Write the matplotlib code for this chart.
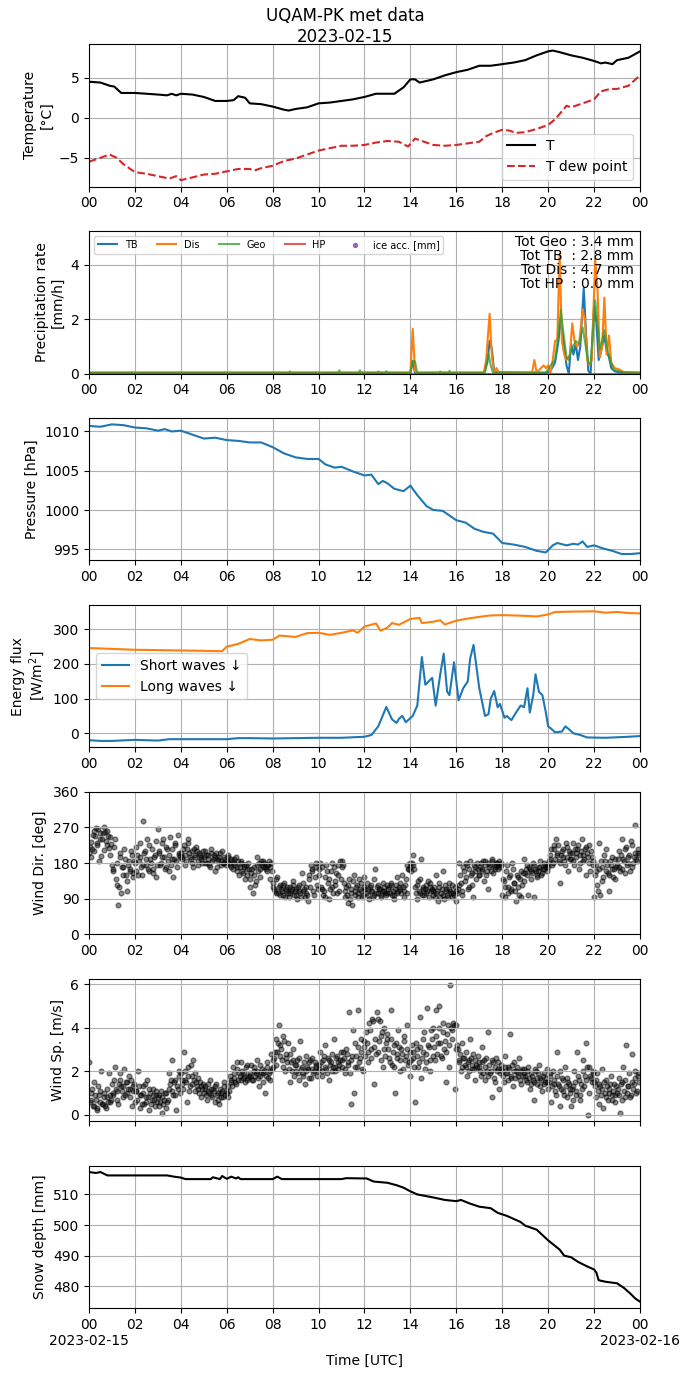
import numpy as np
import matplotlib
matplotlib.use("Agg")
import matplotlib.pyplot as plt

# ---- temperature
t_hours = [0, 0.5, 0.9, 1.1, 1.4, 2, 2.5, 3, 3.4, 3.6, 3.8, 4, 4.5, 5, 5.5, 6, 6.3, 6.5, 6.8, 7,
           7.5, 8, 8.5, 8.7, 9, 9.5, 10, 10.5, 11, 11.5, 12, 12.5, 13, 13.3, 13.7, 14, 14.2, 14.4,
           14.7, 15, 15.5, 16, 16.5, 17, 17.5, 18, 18.5, 19, 19.5, 20, 20.2, 20.5, 21, 21.5, 22,
           22.3, 22.5, 22.8, 23, 23.5, 24]
t_vals = [4.5, 4.4, 4.0, 3.9, 3.1, 3.1, 3.0, 2.9, 2.8, 3.0, 2.8, 3.0, 2.9, 2.6, 2.1, 2.1, 2.2, 2.7,
          2.5, 1.8, 1.7, 1.4, 1.0, 0.9, 1.1, 1.3, 1.8, 1.9, 2.1, 2.3, 2.6, 3.0, 3.0, 3.0, 3.8, 4.8,
          4.8, 4.4, 4.6, 4.8, 5.3, 5.7, 6.0, 6.5, 6.5, 6.7, 6.9, 7.2, 7.8, 8.3, 8.4, 8.2, 7.8, 7.5,
          7.1, 6.8, 6.9, 6.7, 7.2, 7.5, 8.3]
td_hours = [0, 0.5, 0.9, 1.2, 1.5, 2, 2.5, 3, 3.5, 3.8, 4, 4.3, 5, 5.5, 6, 6.5, 7, 7.2, 7.5, 8,
            8.5, 9, 9.5, 10, 10.5, 11, 11.5, 12, 12.5, 13, 13.5, 13.9, 14.2, 14.5, 15, 15.5, 16,
            16.5, 17, 17.3, 17.6, 18, 18.3, 18.6, 19, 19.5, 20, 20.3, 20.6, 20.8, 21, 21.5, 22,
            22.3, 22.7, 23, 23.5, 24]
td_vals = [-5.5, -5.0, -4.6, -5.0, -5.8, -6.8, -7.0, -7.3, -7.6, -7.3, -7.8, -7.6, -7.1, -7.0,
           -6.7, -6.4, -6.4, -6.6, -6.3, -6.0, -5.4, -5.1, -4.6, -4.1, -3.8, -3.5, -3.5, -3.4,
           -3.1, -2.9, -3.0, -3.6, -2.6, -2.9, -3.4, -3.5, -3.4, -3.2, -3.0, -2.3, -1.9, -1.5,
           -1.6, -1.9, -1.8, -1.4, -0.9, -0.2, 0.8, 1.5, 1.3, 1.8, 2.3, 3.3, 3.6, 3.6, 4.0, 5.3]

# ---- precipitation rate
tb_hours = [0, 14.0, 14.1, 14.2, 17.2, 17.35, 17.45, 17.55, 17.65, 19.9, 20.1, 20.3, 20.45, 20.55,
            20.65, 20.8, 20.9, 21.0, 21.1, 21.2, 21.3, 21.4, 21.55, 21.65, 21.75, 21.85, 22.0,
            22.1, 22.2, 22.3, 22.45, 22.55, 22.65, 22.75, 22.9, 23.2, 24]
tb_vals = [0.03, 0.03, 0.45, 0.03, 0.03, 0.4, 1.2, 0.9, 0.05, 0.03, 0.1, 0.4, 1.2, 2.0, 1.3, 0.3,
           0.0, 1.1, 0.7, 1.1, 0.5, 1.0, 3.15, 1.5, 0.1, 0.0, 2.5, 1.9, 0.5, 0.8, 1.4, 0.8, 0.6,
           0.2, 0.08, 0.03, 0.03]
dis_hours = [0, 14.0, 14.1, 14.2, 14.3, 17.2, 17.3, 17.45, 17.55, 17.65, 17.75, 17.85, 19.3, 19.4,
             19.5, 19.8, 19.9, 20.0, 20.1, 20.2, 20.3, 20.4, 20.5, 20.6, 20.7, 20.8, 20.95, 21.05,
             21.15, 21.25, 21.35, 21.5, 21.6, 21.7, 21.8, 21.9, 22.05, 22.15, 22.25, 22.35, 22.45,
             22.55, 22.65, 22.75, 22.9, 23.1, 23.3, 24]
dis_vals = [0.03, 0.03, 1.65, 0.1, 0.03, 0.03, 0.5, 2.2, 0.6, 0.05, 0.2, 0.03, 0.03, 0.5, 0.03,
            0.3, 0.2, 0.3, 0.03, 0.5, 1.2, 1.25, 4.4, 1.2, 0.7, 0.5, 0.7, 1.85, 1.2, 1.0, 1.1,
            2.35, 2.0, 0.5, 0.3, 0.5, 4.2, 3.1, 0.6, 1.0, 2.8, 0.7, 1.4, 0.4, 0.2, 0.15, 0.05, 0.03]
geo_hours = [0, 8.7, 8.75, 8.8, 10.85, 10.9, 10.95, 11.75, 11.8, 11.85, 12.55, 12.6, 12.65, 12.9,
             12.95, 13.0, 14.0, 14.1, 14.2, 14.3, 15.25, 15.3, 15.35, 15.65, 15.7, 15.75, 17.25,
             17.4, 17.5, 17.6, 19.9, 20.1, 20.3, 20.45, 20.55, 20.65, 20.8, 20.9, 21.0, 21.1, 21.2,
             21.35, 21.5, 21.6, 21.75, 21.85, 22.05, 22.15, 22.25, 22.35, 22.45, 22.55, 22.7,
             22.85, 23.0, 23.3, 24]
geo_vals = [0.03, 0.03, 0.08, 0.03, 0.03, 0.12, 0.03, 0.03, 0.12, 0.03, 0.03, 0.08, 0.03, 0.03,
            0.09, 0.03, 0.03, 0.47, 0.45, 0.03, 0.03, 0.08, 0.03, 0.03, 0.1, 0.03, 0.03, 0.74, 0.3,
            0.03, 0.03, 0.3, 0.5, 1.5, 2.35, 1.6, 0.6, 0.5, 0.9, 1.0, 1.2, 1.1, 1.7, 1.2, 0.4,
            0.35, 2.7, 1.8, 0.9, 1.2, 1.6, 1.0, 0.5, 0.15, 0.1, 0.05, 0.03]
hp_hours = [0, 24]
hp_vals = [0.0, 0.0]
ice_hours = []
ice_vals = []
totals = {"Geo": 3.4, "TB": 2.8, "Dis": 4.7, "HP": 0.0}

# ---- pressure
p_hours = [0, 0.5, 1, 1.5, 2, 2.5, 3, 3.3, 3.6, 4, 4.5, 5, 5.5, 6, 6.5, 7, 7.5, 8, 8.5, 9, 9.5,
           10, 10.3, 10.7, 11, 11.5, 12, 12.3, 12.6, 12.8, 13, 13.3, 13.7, 14, 14.3, 14.7, 15,
           15.4, 15.8, 16, 16.4, 16.8, 17.2, 17.6, 18, 18.5, 19, 19.5, 19.9, 20.2, 20.4, 20.8,
           21.1, 21.3, 21.5, 21.7, 22, 22.4, 22.8, 23.2, 23.6, 24]
p_vals = [1010.7, 1010.6, 1010.9, 1010.8, 1010.5, 1010.4, 1010.1, 1010.3, 1010.0, 1010.1, 1009.6,
          1009.1, 1009.2, 1008.9, 1008.8, 1008.6, 1008.6, 1008.0, 1007.2, 1006.7, 1006.5, 1006.5,
          1005.8, 1005.4, 1005.5, 1004.9, 1004.4, 1004.5, 1003.3, 1003.7, 1003.4, 1002.7, 1002.4,
          1003.1, 1001.9, 1000.5, 1000.0, 999.9, 999.1, 998.7, 998.4, 997.6, 997.2, 997.0, 995.8,
          995.6, 995.3, 994.8, 994.6, 995.5, 995.8, 995.5, 995.7, 995.6, 996.0, 995.3, 995.5,
          995.1, 994.8, 994.4, 994.4, 994.5]

# ---- radiation
sw_hours = [0, 0.5, 1, 2, 3, 3.5, 4, 5, 6, 6.5, 7, 8, 9, 10, 11, 12, 12.3, 12.6, 12.85, 12.95,
            13.2, 13.4, 13.5, 13.65, 13.8, 14.1, 14.3, 14.5, 14.65, 14.8, 14.95, 15.1, 15.3,
            15.45, 15.6, 15.7, 15.9, 16.1, 16.3, 16.5, 16.6, 16.75, 17.0, 17.25, 17.4, 17.5,
            17.65, 17.8, 17.9, 18.1, 18.2, 18.4, 18.6, 18.8, 18.95, 19.1, 19.2, 19.35, 19.45,
            19.6, 19.75, 19.9, 20.0, 20.1, 20.3, 20.6, 20.75, 20.9, 21.1, 21.4, 21.7, 22.5,
            23.5, 24]
sw_vals = [-20, -22, -22, -19, -21, -17, -17, -17, -17, -14, -14, -15, -14, -13, -13, -10, -5,
           20, 60, 76, 40, 30, 42, 50, 32, 50, 80, 220, 140, 150, 160, 80, 170, 230, 120, 110,
           205, 95, 130, 150, 215, 255, 130, 50, 55, 100, 122, 75, 85, 45, 50, 38, 60, 80, 75,
           130, 60, 110, 170, 120, 110, 60, 20, 15, 3, 5, 20, 12, 0, -5, -12, -13, -10, -8]
lw_hours = [0, 2, 4, 5.8, 6.0, 6.5, 7, 7.5, 8, 8.3, 9, 9.5, 10, 10.5, 11, 11.5, 11.7, 12, 12.5,
            12.7, 13, 13.2, 13.5, 14, 14.4, 14.5, 15, 15.3, 15.5, 16, 16.5, 17, 17.5, 18, 19,
            19.5, 20, 20.3, 21, 22, 22.5, 23, 23.5, 24]
lw_vals = [246, 241, 239, 237, 250, 258, 272, 268, 270, 282, 278, 289, 290, 284, 290, 297, 290,
           308, 317, 296, 305, 318, 313, 330, 333, 318, 322, 326, 314, 325, 331, 336, 340, 341,
           339, 337, 343, 350, 351, 352, 348, 350, 347, 346]

# ---- wind, 4-min samples (two interleaved sets), one row per hour
wind_dir_a = [
    205, 232, 215, 260, 248, 226, 265, 240, 198, 255, 270, 236, 262, 218, 245,
    175, 160, 240, 125, 75, 195, 105, 170, 215, 150, 110, 185, 165, 200, 155,
    180, 220, 150, 195, 170, 285, 205, 175, 240, 160, 190, 215, 165, 200, 145,
    265, 205, 180, 230, 195, 170, 215, 160, 245, 190, 145, 225, 185, 250, 200,
    205, 190, 225, 175, 215, 240, 195, 210, 170, 200, 220, 185, 205, 195, 180,
    195, 210, 180, 200, 170, 215, 190, 160, 205, 185, 195, 175, 210, 180, 190,
    185, 200, 175, 190, 165, 180, 195, 170, 150, 185, 160, 175, 140, 165, 180,
    120, 155, 105, 170, 135, 195, 180, 165, 175, 185, 170, 160, 175, 140, 180,
    130, 115, 105, 145, 120, 100, 110, 125, 95, 115, 105, 120, 110, 135, 100,
    115, 90, 125, 105, 155, 110, 95, 120, 85, 140, 175, 160, 100, 180, 125,
    165, 180, 115, 100, 145, 175, 130, 90, 160, 120, 170, 135, 105, 150, 185,
    185, 175, 95, 120, 80, 140, 105, 75, 150, 110, 125, 95, 115, 130, 100,
    145, 105, 115, 90, 125, 110, 100, 165, 120, 105, 115, 95, 130, 110, 100,
    105, 120, 125, 100, 90, 115, 145, 110, 130, 105, 120, 95, 140, 175, 165,
    170, 180, 200, 120, 90, 135, 105, 190, 115, 100, 125, 110, 95, 130, 115,
    110, 95, 150, 85, 120, 105, 160, 90, 115, 100, 130, 110, 95, 105, 120,
    85, 115, 180, 130, 100, 160, 145, 175, 120, 185, 155, 95, 170, 140, 165,
    150, 180, 165, 135, 185, 160, 115, 175, 190, 155, 170, 180, 165, 185, 175,
    100, 135, 95, 175, 120, 150, 110, 165, 130, 85, 145, 100, 160, 125, 190,
    155, 175, 100, 165, 140, 180, 95, 160, 150, 170, 185, 155, 165, 175, 160,
    170, 190, 215, 180, 225, 240, 200, 185, 130, 210, 195, 175, 220, 160, 205,
    190, 230, 175, 205, 215, 165, 200, 240, 185, 215, 150, 195, 225, 210, 185,
    95, 160, 125, 230, 100, 170, 145, 185, 215, 155, 110, 175, 195, 165, 140,
    175, 210, 160, 240, 190, 155, 220, 180, 200, 235, 170, 195, 275, 185, 205]
wind_dir_b = [
    220, 195, 250, 210, 268, 230, 185, 255, 240, 212, 258, 225, 247, 200, 228,
    165, 220, 140, 180, 120, 205, 170, 150, 190, 135, 175, 160, 210, 145, 185,
    160, 200, 185, 230, 150, 175, 210, 190, 165, 225, 180, 155, 195, 235, 175,
    210, 175, 195, 240, 165, 220, 185, 200, 175, 215, 190, 230, 170, 205, 195,
    195, 215, 200, 185, 230, 205, 190, 180, 215, 195, 210, 175, 200, 190, 210,
    180, 200, 190, 175, 205, 185, 200, 195, 170, 190, 205, 185, 180, 195, 175,
    195, 180, 170, 185, 190, 175, 160, 185, 170, 180, 155, 170, 175, 150, 165,
    140, 165, 150, 125, 175, 160, 145, 185, 170, 180, 165, 175, 185, 170, 160,
    120, 110, 140, 105, 125, 115, 100, 130, 110, 120, 95, 105, 115, 125, 110,
    100, 120, 110, 95, 130, 115, 105, 100, 150, 120, 165, 110, 145, 170, 115,
    150, 120, 170, 110, 95, 160, 140, 115, 180, 105, 125, 155, 175, 110, 140,
    170, 130, 110, 100, 125, 90, 115, 135, 100, 120, 105, 140, 110, 95, 120,
    115, 130, 100, 120, 110, 95, 140, 105, 125, 115, 100, 110, 120, 105, 125,
    115, 105, 130, 110, 100, 125, 105, 120, 115, 150, 110, 125, 105, 165, 180,
    160, 175, 165, 105, 125, 110, 140, 100, 120, 115, 105, 135, 120, 110, 100,
    120, 105, 110, 130, 95, 115, 100, 125, 110, 95, 115, 105, 125, 100, 110,
    105, 125, 150, 110, 170, 135, 180, 115, 165, 150, 125, 175, 160, 180, 150,
    170, 160, 185, 175, 150, 180, 170, 160, 185, 175, 165, 180, 175, 170, 180,
    140, 120, 160, 105, 145, 115, 180, 130, 110, 150, 120, 140, 95, 155, 135,
    165, 150, 170, 160, 155, 175, 165, 145, 160, 170, 150, 165, 180, 170, 175,
    185, 200, 175, 215, 190, 205, 225, 180, 200, 215, 185, 230, 195, 210, 190,
    205, 185, 215, 195, 225, 180, 210, 200, 190, 220, 205, 180, 160, 195, 175,
    150, 175, 110, 165, 185, 135, 200, 160, 175, 150, 185, 165, 145, 190, 170,
    190, 170, 200, 165, 185, 215, 175, 195, 160, 225, 180, 205, 190, 215, 200]
wind_sp_a = [
    2.4, 0.7, 1.2, 0.4, 0.9, 0.2, 1.3, 0.6, 2.0, 0.5, 1.0, 0.3, 0.8, 1.9, 0.6,
    1.4, 0.9, 2.2, 1.1, 0.5, 1.6, 1.3, 0.8, 2.1, 1.5, 1.0, 1.8, 1.2, 0.4, 1.3,
    0.6, 1.1, 2.0, 0.3, 0.9, 1.3, 0.5, 0.8, 1.6, 0.2, 1.0, 0.7, 1.2, 0.4, 0.9,
    0.8, 0.4, 1.1, 0.1, 0.7, 1.0, 0.6, 1.9, 1.4, 2.5, 0.9, 1.6, 0.2, 1.2, 2.0,
    1.9, 1.4, 2.9, 1.6, 0.6, 2.2, 1.3, 1.8, 2.5, 1.1, 1.5, 1.7, 1.0, 1.3, 1.2,
    1.0, 1.3, 0.7, 1.1, 1.6, 0.9, 1.2, 0.6, 1.4, 1.0, 0.5, 0.8, 1.1, 1.5, 0.9,
    1.0, 1.3, 1.8, 1.5, 2.2, 1.7, 1.4, 2.4, 1.9, 1.6, 2.0, 1.8, 1.5, 2.3, 1.7,
    1.8, 2.3, 1.6, 2.0, 1.9, 2.5, 1.3, 1.8, 2.1, 1.9, 1.0, 2.4, 1.7, 2.0, 2.8,
    2.2, 2.6, 3.5, 2.9, 4.1, 3.2, 2.5, 3.6, 2.0, 2.8, 3.3, 1.5, 2.4, 3.0, 1.8,
    2.0, 2.5, 1.6, 3.4, 2.2, 1.9, 1.4, 2.7, 2.1, 2.4, 1.7, 2.6, 2.0, 2.3, 1.8,
    2.3, 2.9, 1.8, 2.5, 3.2, 2.1, 2.6, 1.6, 2.4, 2.0, 3.5, 2.2, 2.7, 2.1, 2.5,
    2.5, 2.9, 1.9, 3.0, 2.4, 4.7, 0.5, 2.7, 1.0, 3.3, 2.2, 4.8, 2.6, 3.5, 2.0,
    3.1, 3.8, 2.4, 4.2, 3.0, 4.4, 1.4, 3.5, 4.7, 2.9, 4.3, 3.6, 2.2, 4.0, 3.3,
    3.7, 2.6, 4.8, 2.3, 3.2, 1.0, 2.8, 3.9, 2.5, 3.0, 2.1, 3.4, 2.7, 4.1, 2.4,
    1.8, 3.2, 2.6, 0.6, 3.0, 2.2, 4.5, 1.7, 2.9, 3.8, 2.4, 4.9, 3.1, 2.0, 3.5,
    4.0, 2.5, 4.8, 3.3, 5.0, 2.7, 4.2, 3.0, 1.5, 3.7, 2.2, 5.95, 3.9, 4.2, 1.2,
    4.1, 3.0, 2.4, 2.0, 3.3, 2.6, 2.2, 1.8, 2.5, 3.5, 2.1, 2.8, 1.6, 2.3, 2.7,
    2.2, 1.8, 3.1, 2.5, 1.6, 2.0, 3.8, 1.9, 0.8, 2.4, 1.5, 2.6, 2.1, 1.2, 2.3,
    2.0, 1.5, 2.7, 1.9, 2.2, 3.7, 1.7, 1.3, 2.4, 2.0, 1.8, 2.6, 1.4, 2.1, 1.9,
    1.8, 1.5, 2.2, 1.2, 1.9, 1.6, 0.7, 2.0, 1.4, 2.3, 1.7, 1.1, 1.9, 1.5, 2.1,
    1.2, 1.8, 0.6, 2.0, 1.4, 0.9, 2.9, 1.3, 0.4, 1.7, 1.1, 2.2, 0.8, 1.5, 1.0,
    0.4, 1.3, 2.0, 0.9, 2.9, 1.6, 0.7, 1.2, 2.5, 1.8, 3.3, 0.0, 2.2, 1.7, 2.0,
    1.5, 0.8, 1.9, 0.5, 1.3, 2.1, 0.3, 1.0, 1.6, 0.7, 1.2, 1.8, 0.9, 1.4, 0.6,
    1.0, 1.7, 0.1, 1.5, 2.2, 0.8, 3.2, 1.3, 1.9, 0.9, 2.8, 1.4, 2.0, 1.1, 1.8]
wind_sp_b = [
    0.6, 1.0, 0.4, 1.5, 0.7, 0.3, 0.9, 1.1, 0.5, 0.8, 0.4, 1.2, 0.6, 0.9, 0.7,
    1.0, 1.6, 1.2, 0.7, 1.4, 1.9, 1.1, 1.3, 0.9, 1.5, 1.2, 0.8, 1.6, 1.1, 1.4,
    1.1, 0.7, 1.3, 0.9, 0.5, 1.0, 1.4, 0.6, 0.8, 1.2, 0.5, 0.9, 0.7, 1.1, 0.6,
    0.9, 0.6, 0.8, 0.5, 1.0, 0.3, 0.7, 1.2, 1.6, 1.1, 1.5, 0.9, 1.3, 1.8, 1.0,
    1.6, 1.2, 2.0, 1.5, 1.8, 1.1, 2.3, 1.4, 1.6, 1.9, 1.3, 1.2, 1.5, 0.8, 1.4,
    1.2, 0.9, 1.4, 1.0, 1.2, 0.8, 1.1, 1.3, 0.9, 0.7, 1.2, 1.0, 0.8, 1.3, 1.1,
    0.8, 1.1, 1.6, 1.3, 1.9, 1.5, 2.1, 1.6, 1.8, 2.4, 1.7, 1.9, 2.2, 1.6, 1.8,
    1.9, 1.6, 2.2, 1.8, 2.0, 1.7, 2.3, 1.9, 1.5, 2.0, 1.8, 2.2, 1.9, 1.6, 2.1,
    2.5, 2.9, 2.3, 3.3, 2.7, 3.0, 2.2, 3.4, 2.6, 2.4, 2.1, 2.8, 2.0, 2.5, 2.3,
    2.3, 1.9, 2.6, 2.1, 1.8, 2.4, 2.0, 2.2, 1.7, 2.5, 2.1, 1.9, 2.4, 2.2, 2.0,
    2.1, 2.4, 2.0, 2.7, 2.2, 1.9, 2.5, 2.3, 2.8, 2.2, 2.0, 2.6, 2.4, 2.3, 2.9,
    2.2, 2.6, 2.1, 2.8, 2.3, 1.9, 2.5, 3.9, 2.2, 2.7, 3.1, 2.4, 2.9, 2.1, 3.4,
    2.7, 3.3, 2.9, 3.9, 2.6, 4.3, 3.1, 2.8, 4.4, 3.4, 2.5, 3.8, 3.0, 2.7, 3.5,
    3.0, 2.4, 3.5, 2.9, 2.2, 3.3, 2.6, 3.1, 2.0, 2.8, 3.6, 2.5, 3.0, 2.3, 2.9,
    2.5, 2.9, 2.2, 3.3, 2.7, 2.4, 3.1, 2.6, 3.5, 2.1, 2.8, 3.2, 2.5, 3.9, 2.7,
    3.1, 3.6, 2.8, 4.0, 3.3, 2.6, 3.8, 3.4, 2.9, 4.1, 3.2, 4.0, 3.5, 4.1, 3.0,
    3.2, 2.5, 2.8, 2.2, 2.6, 2.3, 2.9, 2.4, 2.0, 2.6, 2.3, 2.1, 2.5, 2.2, 2.4,
    2.0, 2.4, 1.9, 2.2, 2.6, 1.8, 2.3, 2.0, 2.5, 1.7, 2.2, 2.0, 2.4, 1.9, 2.1,
    1.8, 2.2, 1.9, 1.6, 2.1, 1.8, 2.3, 2.0, 1.7, 2.2, 1.9, 1.6, 2.0, 1.8, 2.1,
    1.6, 2.0, 1.7, 1.4, 1.8, 1.5, 2.1, 1.7, 1.9, 1.3, 1.6, 1.8, 1.4, 1.7, 1.5,
    1.5, 1.9, 1.3, 1.6, 1.1, 1.8, 1.4, 2.0, 1.2, 1.6, 0.9, 1.3, 1.7, 1.4, 1.2,
    1.2, 0.7, 1.5, 1.1, 1.8, 0.9, 1.4, 2.0, 1.3, 1.6, 2.2, 1.0, 1.8, 1.5, 1.9,
    1.3, 1.6, 1.1, 1.4, 0.9, 1.2, 1.5, 0.8, 1.3, 1.0, 1.4, 0.7, 1.1, 0.9, 1.3,
    1.2, 0.9, 1.4, 0.7, 1.1, 1.6, 1.0, 1.3, 0.8, 1.5, 1.2, 1.7, 1.0, 1.9, 1.5]
wind_hours_a = np.arange(0, 24, 4 / 60)
wind_hours_b = wind_hours_a + 2 / 60

# ---- snow depth
snow_hours = [0, 0.3, 0.5, 0.8, 3.4, 3.7, 4.0, 4.2, 5.3, 5.4, 5.7, 5.8, 6.0, 6.2, 6.4, 6.5, 6.6,
              8.0, 8.2, 8.4, 11.0, 11.2, 12.1, 12.4, 13.0, 13.4, 13.7, 14.0, 14.3, 15.0, 15.5,
              16.0, 16.2, 16.6, 17.0, 17.5, 17.8, 18.2, 18.5, 18.8, 19.0, 19.5, 20.0, 20.5, 20.7,
              21.0, 21.3, 21.7, 22.0, 22.1, 22.2, 22.5, 23.0, 23.3, 23.6, 23.8, 24]
snow_vals = [517.3, 517.0, 517.3, 516.2, 516.2, 515.8, 515.5, 515.0, 515.0, 515.6, 515.0, 516.0,
             515.1, 515.8, 515.2, 515.6, 515.0, 515.0, 515.8, 515.0, 515.0, 515.3, 515.2, 514.2,
             513.8, 513.0, 512.2, 511.0, 510.0, 509.0, 508.2, 507.8, 508.2, 507.0, 506.0, 505.5,
             504.0, 503.0, 502.0, 501.0, 499.8, 498.5, 495.0, 492.0, 490.0, 489.5, 488.0, 486.5,
             485.5, 484.5, 482.0, 481.5, 481.0, 479.5, 477.5, 476.0, 475.0]

xticks = list(range(0, 25, 2))
xticklabels = ["%02d" % (h % 24) for h in xticks]

fig, axs = plt.subplots(7, 1, figsize=(6.9, 13.77), dpi=100)
fig.subplots_adjust(left=0.129, right=0.9275, top=0.968, bottom=0.050, hspace=0.311)
fig.suptitle("UQAM-PK met data\n2023-02-15", fontsize=12, y=0.995)

ax = axs[0]
ax.plot(t_hours, t_vals, color="black", lw=1.5, label="T")
ax.plot(td_hours, td_vals, color="tab:red", ls="--", lw=1.5, label="T dew point")
ax.set_ylabel("Temperature\n[°C]")
ax.legend(loc="lower right")

ax = axs[1]
ax.plot(tb_hours, tb_vals, color="tab:blue", lw=1.5, label="TB")
ax.plot(dis_hours, dis_vals, color="tab:orange", lw=1.5, label="Dis")
ax.plot(geo_hours, geo_vals, color="tab:green", lw=1.5, alpha=0.75, label="Geo")
ax.plot(hp_hours, hp_vals, color="tab:red", lw=1.5, alpha=0.75, label="HP")
ax.scatter(ice_hours, ice_vals, color="tab:purple", s=8, label="ice acc. [mm]")
ax.set_ylim(0, 5.25)
ax.set_ylabel("Precipitation rate\n[mm/h]")
ax.legend(loc="upper left", ncol=5, fontsize=7)
tot_txt = "\n".join(["Tot Geo : %.1f mm" % totals["Geo"], "Tot TB  : %.1f mm" % totals["TB"],
                     "Tot Dis : %.1f mm" % totals["Dis"], "Tot HP  : %.1f mm" % totals["HP"]])
ax.text(0.989, 0.975, tot_txt, transform=ax.transAxes, ha="right", va="top",
        fontsize=10, linespacing=1.0)

ax = axs[2]
ax.plot(p_hours, p_vals, color="tab:blue", lw=1.5)
ax.set_ylabel("Pressure [hPa]")

ax = axs[3]
ax.plot(sw_hours, sw_vals, color="tab:blue", lw=1.5, label="Short waves ↓")
ax.plot(lw_hours, lw_vals, color="tab:orange", lw=1.5, label="Long waves ↓")
ax.set_ylabel("Energy flux\n[W/m$^2$]")
ax.legend(loc="center left")

ax = axs[4]
ax.scatter(wind_hours_a, wind_dir_a, color="black", s=12, alpha=0.45)
ax.scatter(wind_hours_b, wind_dir_b, color="black", s=12, alpha=0.45)
ax.set_ylim(0, 360)
ax.set_yticks([0, 90, 180, 270, 360])
ax.set_ylabel("Wind Dir. [deg]")

ax = axs[5]
ax.scatter(wind_hours_a, wind_sp_a, color="black", s=12, alpha=0.45)
ax.scatter(wind_hours_b, wind_sp_b, color="black", s=12, alpha=0.45)
ax.set_ylabel("Wind Sp. [m/s]")

ax = axs[6]
ax.plot(snow_hours, snow_vals, color="black", lw=1.5)
ax.set_ylabel("Snow depth [mm]")
ax.set_xlabel("Time [UTC]")

for i, ax in enumerate(axs):
    ax.set_xlim(0, 24)
    ax.set_xticks(xticks)
    ax.grid(True)
    if i == 5:
        ax.set_xticklabels([])
    elif i == 6:
        labs = list(xticklabels)
        labs[0] = "00\n2023-02-15"
        labs[-1] = "00\n2023-02-16"
        ax.set_xticklabels(labs)
    else:
        ax.set_xticklabels(xticklabels)

fig.savefig("out.png", dpi=100)
